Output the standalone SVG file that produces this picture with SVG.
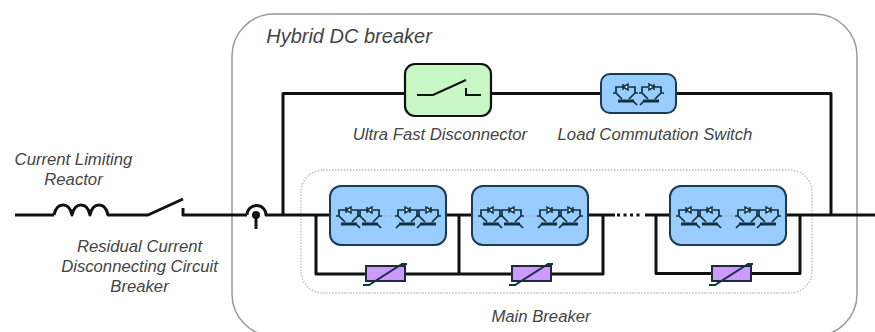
<svg xmlns="http://www.w3.org/2000/svg" xmlns:xlink="http://www.w3.org/1999/xlink" width="875" height="332" viewBox="0 0 875 332">
<style>
.w{fill:none;stroke:#111;stroke-width:3;stroke-linejoin:round}
.t{font-family:"Liberation Sans",Arial,sans-serif;font-style:italic;font-size:16.7px;fill:#444;text-anchor:middle}
.blue{fill:#99ccff;stroke:#1d3a50;stroke-width:2}
.pur{fill:#cc99ff;stroke:#1d2a40;stroke-width:2}
.thin{fill:none;stroke:#10303c;stroke-width:1.700}
.thick{fill:none;stroke:#10303c;stroke-width:3}
</style>
<defs>
<g id="igbt">
<path class="thin" d="M0 1H3M3 1V-5H10M16-5H22V1H25M3 1L9 7M22 1L16 7"/>
<path d="M10-8V-2M10-5L15-8V-2Z" fill="#fff" stroke="#10303c" stroke-width="1.500"/>
<path class="thick" d="M5 9H21"/>
<path class="thin" d="M20 9L24 13"/>
</g>
<g id="pair">
<use xlink:href="#igbt"/>
<use xlink:href="#igbt" x="21"/>
</g>
<g id="pairR">
<use xlink:href="#igbt" transform="translate(25 0) scale(-1 1)"/>
<use xlink:href="#igbt" transform="translate(46 0) scale(-1 1)"/>
</g>
<g id="var">
<rect class="pur" x="0" y="0" width="39" height="15"/>
<path d="M-3 19H3L36-2H41" fill="none" stroke="#143240" stroke-width="2"/>
</g>
<g id="mod">
<rect class="blue" x="0" y="0" width="116" height="59" rx="11"/>
<use xlink:href="#pair" x="6" y="29"/>
<use xlink:href="#pairR" x="65" y="29"/>
<path d="M53 30H65" stroke="#9ab" stroke-width="1.200" stroke-dasharray="2 1.500"/>
</g>
</defs>

<g id="hybrid-dc-breaker">
<rect x="232" y="14" width="625" height="322" rx="42" fill="#fff" stroke="#999" stroke-width="1.500"/>
<text class="t" x="349" y="43" style="font-size:20px">Hybrid DC breaker</text>
</g>
<g id="main-breaker">
<rect x="301" y="170" width="511" height="123" rx="22" fill="none" stroke="#bbb" stroke-width="1.300" stroke-dasharray="1.500 1.500"/>
<text class="t" x="541" y="322">Main Breaker</text>
</g>

<g id="connectors">
<path class="w" d="M15 215H54"/>
<path class="w" d="M54 215Q56 205 63 205T72 215Q74 205 81 205T90 215Q92 205 99 205T108 215H148L183 199M183 208V215H247"/>
<path class="w" d="M247 215A9.500 9.500 0 0 1 266 215H330"/>
<path class="w" d="M283 215V93.500H405M491 93.500H601M676 93.500H831V215"/>
<path class="w" d="M446 215H472M588 215H615M645 215H670M786 215H875"/>
<path d="M617 215H643" stroke="#111" stroke-width="3" stroke-dasharray="3 3.500" fill="none"/>
<path class="w" d="M316 215V274H366M405 274H512M551 274H603V215M459 215V274"/>
<path class="w" d="M656 215V273.500H712M751 273.500H800V215"/>
<path class="w" d="M256 215V229"/>
</g>

<g id="sensor"><circle cx="256" cy="215" r="4" fill="#111"/></g>

<g id="reactor"><text class="t" x="73.500" y="165">Current Limiting</text><text class="t" x="73.500" y="185">Reactor</text></g>
<g id="rcb"><text class="t" x="139.500" y="252">Residual Current</text><text class="t" x="139.500" y="272">Disconnecting Circuit</text><text class="t" x="139.500" y="292">Breaker</text></g>

<g id="ufd">
<rect x="405" y="64" width="86" height="52" rx="10" fill="#c6f7c4" stroke="#111" stroke-width="2.200"/>
<path d="M417 95H433L466 80M466 88V95H481" fill="none" stroke="#111" stroke-width="2"/>
<text class="t" x="440" y="140">Ultra Fast Disconnector</text>
</g>
<g id="lcs">
<rect class="blue" x="601" y="74" width="75" height="39" rx="9"/>
<use xlink:href="#igbt" x="613" y="92"/>
<use xlink:href="#igbt" transform="translate(664 92) scale(-1 1)"/>
<text class="t" x="655" y="140">Load Commutation Switch</text>
</g>

<g id="module-1"><use xlink:href="#mod" x="330" y="186"/></g>
<g id="module-2"><use xlink:href="#mod" x="472" y="186"/></g>
<g id="module-3"><use xlink:href="#mod" x="670" y="186"/></g>
<g id="varistor-1"><use xlink:href="#var" x="366" y="266"/></g>
<g id="varistor-2"><use xlink:href="#var" x="512" y="266"/></g>
<g id="varistor-3"><use xlink:href="#var" x="712" y="266"/></g>
</svg>
